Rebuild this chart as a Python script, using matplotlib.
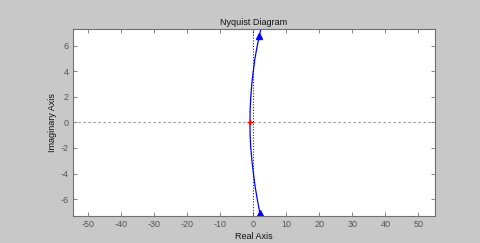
import matplotlib.pyplot as plt

plt.rcParams["font.family"] = ["Liberation Sans", "DejaVu Sans"]
plt.rcParams["axes.unicode_minus"] = False

# Nyquist curve
re_vals = [2.3, 1.8, 1.2, 0.5, 0.0, -0.45, -0.75, -0.95, -1.0,
           -0.95, -0.75, -0.4, 0.05, 0.55, 1.2, 2.0, 2.3]
im_vals = [7.33, 6.75, 6.0, 5.0, 4.0, 3.0, 2.0, 1.0, 0.0,
           -1.0, -2.0, -3.0, -4.0, -5.0, -6.0, -7.1, -7.33]

arrow_re = [1.8, 2.1]
arrow_im = [6.75, -7.1]

xticks = [-50, -40, -30, -20, -10, 0, 10, 20, 30, 40, 50]
yticks = [-6, -4, -2, 0, 2, 4, 6]

bg = "#c8c8c8"
fig = plt.figure(figsize=(4.8, 2.43), dpi=100, facecolor=bg)
ax = fig.add_axes([0.152, 0.111, 0.754, 0.770])
ax.set_facecolor("white")

ax.axhline(0, color="#909090", linestyle=(0, (2, 2.5)), linewidth=0.8)
ax.axvline(0, color="#303040", linestyle=(0, (1, 1.5)), linewidth=0.8)

ax.plot(re_vals, im_vals, color="#0000ff", linewidth=0.9)
ax.plot(arrow_re, arrow_im, linestyle="none", marker="^", markersize=5,
        color="#0000ff")
ax.plot([-1], [0], linestyle="none", marker="+", markersize=4,
        color="red", markeredgewidth=1.0)

ax.set_xlim(-54.6, 55)
ax.set_ylim(-7.33, 7.33)
ax.set_xticks(xticks)
ax.set_yticks(yticks)

ax.tick_params(direction="in", length=3, width=0.6, labelsize=6.5,
               labelcolor="#555555", color="#707070",
               top=True, right=True, pad=3)
for s in ax.spines.values():
    s.set_color("#707070")
    s.set_linewidth(0.8)

ax.set_title("Nyquist Diagram", fontsize=6.5, pad=3, color="#111111")
ax.set_xlabel("Real Axis", fontsize=6.5, labelpad=2, color="#111111")
ax.set_ylabel("Imaginary Axis", fontsize=6.5, labelpad=3, color="#111111")

fig.savefig("out.png", dpi=100, facecolor=bg)
